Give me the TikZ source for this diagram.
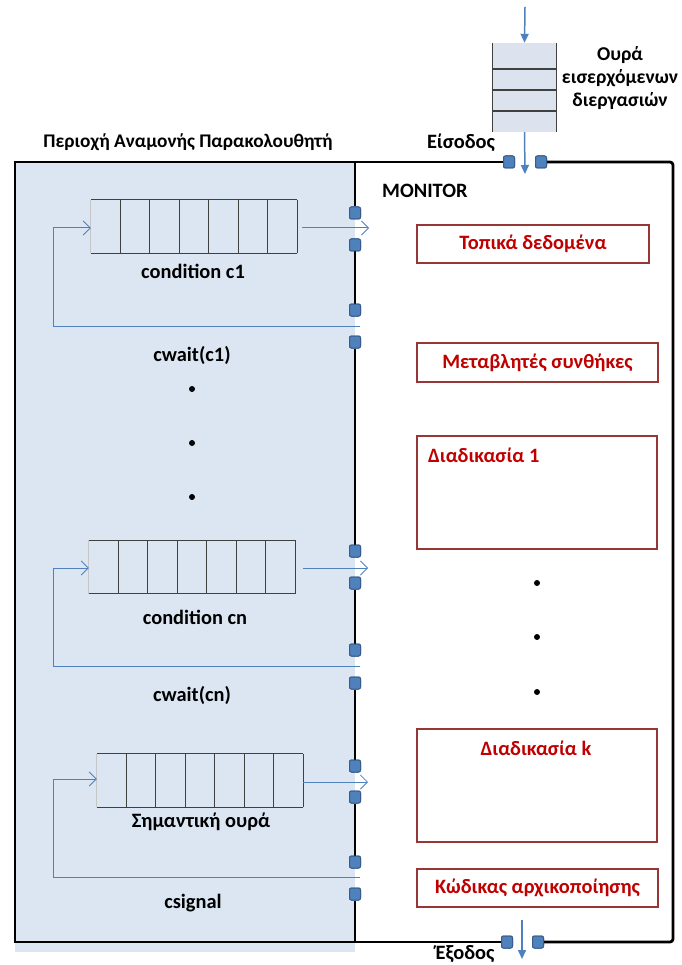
\documentclass[tikz,border=0pt]{standalone}
\usepackage{fontspec}
\setmainfont{Carlito}
\usetikzlibrary{arrows.meta,calc}
\definecolor{shadeblue}{HTML}{DCE6F2}
\definecolor{sqfill}{HTML}{4F81BD}
\definecolor{sqdraw}{HTML}{385D8A}
\definecolor{arrblue}{HTML}{4F81BD}
\definecolor{boxred}{HTML}{953735}
\definecolor{txtred}{HTML}{C00000}
\definecolor{qline}{HTML}{404040}
\definecolor{qfill}{HTML}{DCE3EE}
\tikzset{
  lab/.style={font=\fontsize{20.4}{23}\selectfont\bfseries, inner sep=0pt},
  titlelab/.style={font=\fontsize{19.3}{22}\selectfont\bfseries, inner sep=0pt},
  redtxt/.style={lab, text=txtred},
  border/.style={line width=2.8pt, black},
  sq/.style={rectangle, rounded corners=2pt, minimum width=11pt, minimum height=12pt, inner sep=0pt, fill=sqfill, draw=sqdraw, line width=1pt},
  redbox/.style={draw=boxred, line width=2.5pt, fill=white},
  queue/.style={rectangle, minimum width=206pt, minimum height=53pt, inner sep=0pt},
  thinarr/.style={draw=arrblue, line width=1pt, -{Straight Barb[length=7pt, width=14pt, line width=0.8pt]}},
  solidarr/.style={draw=arrblue, line width=1.5pt, -{Triangle[length=9pt, width=8pt]}},
  dotn/.style={circle, fill=black, inner sep=0pt, minimum size=6pt}
}
\newcommand{\qcells}[1]{%
  \draw[qline, line width=1.3pt] (#1.north west) -- (#1.north east);
  \draw[qline, line width=1.3pt] (#1.south west) -- (#1.south east);
  \draw[qline!30, line width=1pt] (#1.north west) -- (#1.south west);
  \foreach \i in {1,...,7} {
    \draw[qline, line width=1.3pt] ($(#1.north west)!\i/7!(#1.north east)$) -- ($(#1.south west)!\i/7!(#1.south east)$);
  }
}
\begin{document}
\begin{tikzpicture}[x=1pt,y=-1pt]
\useasboundingbox (0,0) rectangle (681,965);
% shaded waiting area
\fill[shadeblue] (15,162) rectangle (355,952);
% connectors on border
\node[sq] (t1) at (509,162) {};
\node[sq] (t2) at (541,162) {};
\node[sq] (b1) at (507,942) {};
\node[sq] (b2) at (538,942) {};
% outer box
\draw[border] (t1.west) -- (15,162) -- (15,942) -- (b1.west);
\draw[border, rounded corners=3pt] (b2.east) -- (673,942) -- (673,162) -- (t2.east);
\node[sq] at (509,162) {};
\node[sq] at (541,162) {};
\node[sq] at (507,942) {};
\node[sq] at (538,942) {};
% divider squares
\foreach \n/\y in {1/213,2/245,3/310,4/342,5/551,6/583,7/650,8/683,9/766,10/797,11/862,12/894} {
  \node[sq] (d\n) at (355,\y) {};
}
\draw[border] (355,162) -- (d1.north);
\draw[border] (d2.south) -- (d3.north);
\draw[border] (d4.south) -- (d5.north);
\draw[border] (d6.south) -- (d7.north);
\draw[border] (d8.south) -- (d9.north);
\draw[border] (d10.south) -- (d11.north);
\draw[border] (d12.south) -- (355,942);
\foreach \n/\y in {1/213,2/245,3/310,4/342,5/551,6/583,7/650,8/683,9/766,10/797,11/862,12/894} {
  \node[sq] at (355,\y) {};
}
% incoming queue
\node[rectangle, minimum width=63pt, minimum height=89pt, inner sep=0pt, fill=qfill] (inq) at (524.5,87.5) {};
\draw[qline, line width=1.3pt] (inq.north west) -- (inq.south west);
\draw[qline, line width=1.3pt] (inq.north east) -- (inq.south east);
\foreach \y in {69,90,111} { \draw[qline, line width=1.3pt] (inq.west |- 0,\y) -- (inq.east |- 0,\y); }
\coordinate (intop) at (525,7);
\coordinate (inbot) at (525,174);
\draw[solidarr] (intop) -- (inq.north);
\draw[solidarr] (inq.south) -- (inbot);
\node[lab, font=\fontsize{19.6}{23}\selectfont\bfseries, align=center] (inqlab) at (620,78) {Ουρά\\[0pt]εισερχόμενων\\[0pt]διεργασιών};
\node[lab] (eisodos) at (461,143) {Είσοδος};
% exit
\coordinate (exittop) at (522,920);
\coordinate (exitbot) at (522,959);
\draw[solidarr] (exittop) -- (exitbot);
\node[lab] (exodos) at (465,954) {Έξοδος};
% title
\node[titlelab] (title) at (188,142) {Περιοχή Αναμονής Παρακολουθητή};
% queue c1
\node[queue] (q1) at (194,226.5) {};
\qcells{q1}
\coordinate (o1) at (369,228);
\coordinate (r1s) at (360,326);
\coordinate (r1c) at (53,326);
\draw[thinarr] ($(q1.east)+(5,1.5)$) -- (o1);
\draw[thinarr] (r1s) -- (r1c) -- (53,228) -- ($(q1.west)+(0,1.5)$);
\node[lab] (lc1) at (193,271) {condition c1};
\node[lab] (wc1) at (192,355) {cwait(c1)};
\node[dotn] (ld1) at (192,389) {};
\node[dotn] (ld2) at (192,443) {};
\node[dotn] (ld3) at (192,497) {};
% queue cn
\node[queue] (qn) at (192,567) {};
\qcells{qn}
\coordinate (on) at (368,568);
\coordinate (rns) at (360,666);
\coordinate (rnc) at (53,666);
\draw[thinarr] ($(qn.east)+(8,1)$) -- (on);
\draw[thinarr] (rns) -- (rnc) -- (53,568) -- ($(qn.west)+(0,1)$);
\node[lab] (lcn) at (195,617) {condition cn};
\node[lab] (wcn) at (192,695) {cwait(cn)};
% signal queue
\node[queue] (qs) at (200,780.5) {};
\qcells{qs}
\coordinate (os) at (368,782);
\coordinate (rss) at (360,877);
\coordinate (rsc) at (53,877);
\draw[thinarr] ($(qs.east)+(0,1.5)$) -- (os);
\draw[thinarr] (rss) -- (rsc) -- (53,779) -- ($(qs.west)+(0,-1.5)$);
\node[lab] (lsq) at (201,822) {Σημαντική ουρά};
\node[lab] (lsig) at (193,903) {csignal};
% monitor side
\node[lab, anchor=west] (mon) at (382,191) {MONITOR};
\node[redbox, minimum width=232pt, minimum height=38pt, inner sep=0pt] (loc) at (533,244) {};
\node[redtxt] at (loc) {Τοπικά δεδομένα};
\node[redbox, minimum width=241pt, minimum height=39pt, inner sep=0pt] (cv) at (537.5,362.5) {};
\node[redtxt] at (cv) {Μεταβλητές συνθήκες};
\node[redbox, minimum width=240pt, minimum height=113pt, inner sep=0pt] (p1) at (537,492.5) {};
\node[redtxt, anchor=west] (p1t) at (428,455) {Διαδικασία 1};
\node[dotn] (rd1) at (537,583) {};
\node[dotn] (rd2) at (537,637) {};
\node[dotn] (rd3) at (537,692) {};
\node[redbox, minimum width=240pt, minimum height=113pt, inner sep=0pt] (pk) at (537,785.5) {};
\node[redtxt] (pkt) at (536,748) {Διαδικασία k};
\node[redbox, minimum width=241pt, minimum height=38pt, inner sep=0pt] (init) at (537.5,888) {};
\node[redtxt] at (init) {Κώδικας αρχικοποίησης};
\end{tikzpicture}
\end{document}
